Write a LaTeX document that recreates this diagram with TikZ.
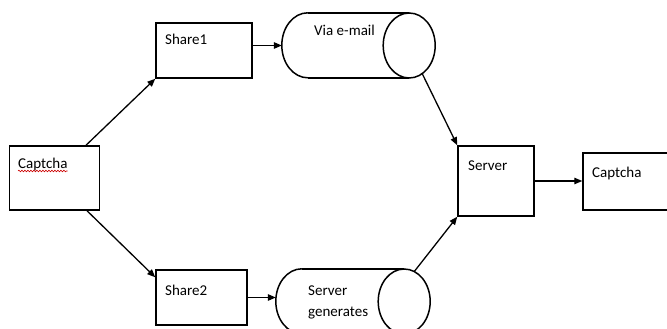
\documentclass[tikz,border=0pt]{standalone}
\usepackage{fontspec}
\setmainfont{Carlito}
\usetikzlibrary{arrows.meta,decorations.pathmorphing}

\begin{document}
\begin{tikzpicture}[x=1pt,y=-1pt,
  box/.style={draw=black, line width=1.5pt, rectangle, inner sep=0pt},
  cylframe/.style={rectangle, inner sep=0pt, draw=none},
  cylline/.style={draw=black, line width=1.5pt},
  lbl/.style={anchor=base west, inner sep=0pt, font=\fontsize{15}{20}\selectfont},
  arr/.style={draw=black, line width=1.3pt, -{Triangle[length=8pt,width=6.5pt]}},
  squiggle/.style={draw=red!80!black, line width=0.6pt,
    decorate, decoration={snake, amplitude=0.8pt, segment length=3pt}}
]
\useasboundingbox (0,0) rectangle (667,329);
\clip (0,0) rectangle (667,329);

% boxes (centre, size)
\node[box, minimum width=90pt, minimum height=64pt] (cap) at (54.5,178) {};
\node[box, minimum width=96pt, minimum height=55pt] (share1) at (204,50.5) {};
\node[box, minimum width=91pt, minimum height=55pt] (share2) at (201.5,297.5) {};
\node[box, minimum width=76pt, minimum height=70pt] (server) at (496,181) {};
\node[box, minimum width=100pt, minimum height=57pt] (capout) at (633,181.5) {};

% cylinder frames: width from back edge to front edge, ellipse radii 26 x 32.5
\node[cylframe, minimum width=153pt, minimum height=65pt] (via) at (358.5,45.5) {};
\node[cylframe, minimum width=154pt, minimum height=65pt] (gen) at (353,301.5) {};

% cylinder outlines
\foreach \c in {via,gen}{
  \draw[cylline] ([xshift=26pt]\c.north west) -- ([xshift=-26pt]\c.north east)
    ([xshift=26pt]\c.south west) -- ([xshift=-26pt]\c.south east);
  \draw[cylline] ([xshift=26pt]\c.north west)
    arc[start angle=90, end angle=270, x radius=26pt, y radius=32.5pt];
  \draw[cylline] ([xshift=-26pt]\c.east) ellipse[x radius=26pt, y radius=32.5pt];
}

% connector end points on the cylinder faces
\coordinate (viaout) at ([xshift=-13pt, yshift=-28.1pt]via.east);
\coordinate (genout) at ([xshift=-16pt, yshift=29.9pt]gen.east);

% labels
\node[lbl] (capt) at (18,168) {Captcha};
\draw[squiggle] ([yshift=-3pt]capt.base west) -- ([yshift=-3pt]capt.base east);
\node[lbl] (share1t) at (165,45) {Share1};
\node[lbl] (share2t) at (165,295) {Share2};
\node[lbl] (viat) at (314,36) {Via e-mail};
\node[lbl] (servert) at (468,170) {Server};
\node[lbl] (capoutt) at (592,177) {Captcha};
\node[lbl] (gent1) at (308,295) {Server};
\node[lbl] (gent2) at (308,316) {generates};

% connectors
\draw[arr] ([xshift=31.5pt]cap.north) -- (share1.south west);
\draw[arr] ([xshift=32.5pt]cap.south) -- ([yshift=-8pt]share2.north west);
\draw[arr] (share1.east |- via.west) -- (via.west);
\draw[arr] (share2.east) -- (share2.east -| gen.west);
\draw[arr] (viaout) -- (server.north west);
\draw[arr] (genout) -- (server.south west);
\draw[arr] (server.east) -- (server.east -| capout.west);
\end{tikzpicture}
\end{document}
